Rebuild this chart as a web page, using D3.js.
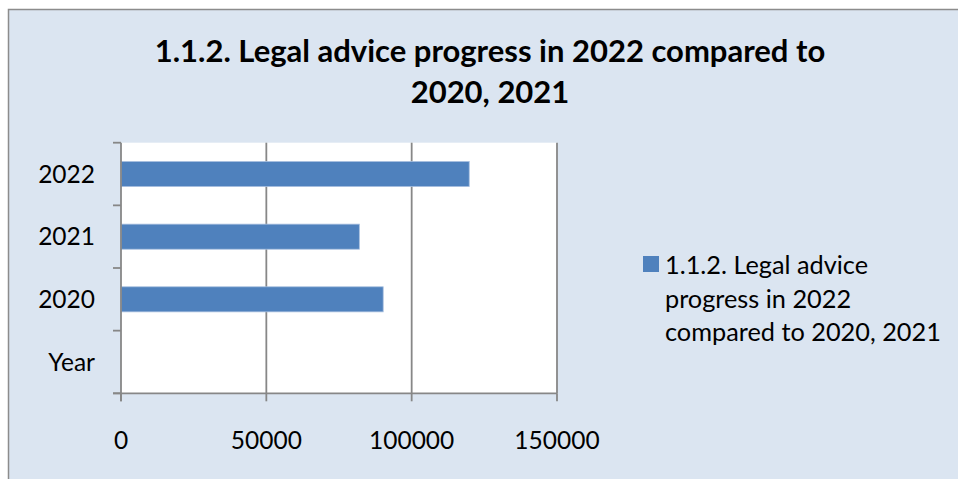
<!DOCTYPE html>
<html>
<head>
<meta charset="utf-8">
<script src="https://cdn.jsdelivr.net/npm/d3@7"></script>
<style>
  html, body { margin: 0; padding: 0; background: #fff; }
  svg { display: block; font-family: Lato, "Open Sans", sans-serif; }
</style>
</head>
<body>
<svg id="chart" width="958" height="479"></svg>
<script>
// data
const categories = ["Year", "2020", "2021", "2022"];
const values = [null, 90200, 82000, 119800];
const xTicks = [0, 50000, 100000, 150000];
const titleLines = ["1.1.2. Legal advice progress in 2022 compared to", "2020, 2021"];
const legendLines = ["1.1.2. Legal advice", "progress in 2022", "compared to 2020, 2021"];

const rows = categories.map((c, i) => ({ cat: c, value: values[i] }));

const svg = d3.select("#chart");
const W = 958, H = 479;
const plot = { left: 121, right: 557, top: 142.7, bottom: 393.3 };
const gridColor = "#878787";
const barColor = "#4f81bd";

// chart area background + frame
svg.append("rect")
  .attr("x", 8.5).attr("y", 9.5)
  .attr("width", W).attr("height", H)
  .attr("fill", "#dbe5f1")
  .attr("stroke", "#8c8c8c")
  .attr("stroke-width", 1.5);

// title
svg.append("g").selectAll("text")
  .data(titleLines)
  .enter()
  .append("text")
  .attr("x", 490)
  .attr("y", (d, i) => 62 + i * 41)
  .attr("text-anchor", "middle")
  .attr("font-weight", "bold")
  .attr("font-size", 31)
  .attr("fill", "#000")
  .text(d => d);

// scales
const x = d3.scaleLinear()
  .domain([0, 150000])
  .range([plot.left, plot.right]);

const y = d3.scaleBand()
  .domain(categories.slice().reverse())
  .range([plot.top, plot.bottom])
  .paddingInner(0.6)
  .paddingOuter(0.3);

// plot area
svg.append("rect")
  .attr("x", plot.left).attr("y", plot.top)
  .attr("width", plot.right - plot.left)
  .attr("height", plot.bottom - plot.top)
  .attr("fill", "#fff");

// vertical gridlines
svg.append("g").selectAll("line")
  .data(xTicks.slice(1))
  .enter()
  .append("line")
  .attr("x1", d => x(d)).attr("x2", d => x(d))
  .attr("y1", plot.top).attr("y2", plot.bottom)
  .attr("stroke", gridColor)
  .attr("stroke-width", 1.8);

// bars
svg.append("g").selectAll("rect")
  .data(rows.filter(d => d.value != null))
  .enter()
  .append("rect")
  .attr("x", x(0))
  .attr("y", d => y(d.cat))
  .attr("width", d => x(d.value) - x(0))
  .attr("height", y.bandwidth())
  .attr("fill", barColor)
  .attr("stroke", "#a7bfdf")
  .attr("stroke-width", 0.8);

// y axis: line + ticks at category boundaries
const yAxis = svg.append("g");
const step = y.step();
const bounds = d3.range(categories.length + 1).map(i => plot.top + i * step);
yAxis.append("line")
  .attr("x1", plot.left).attr("x2", plot.left)
  .attr("y1", plot.top).attr("y2", plot.bottom + 8)
  .attr("stroke", gridColor).attr("stroke-width", 1.8);
yAxis.selectAll("line.tick")
  .data(bounds)
  .enter()
  .append("line")
  .attr("class", "tick")
  .attr("x1", plot.left - 8).attr("x2", plot.left)
  .attr("y1", d => d).attr("y2", d => d)
  .attr("stroke", gridColor).attr("stroke-width", 1.8);
yAxis.selectAll("text")
  .data(categories)
  .enter()
  .append("text")
  .attr("x", 95)
  .attr("y", d => y(d) + y.bandwidth() / 2)
  .attr("dy", "0.35em")
  .attr("text-anchor", "end")
  .attr("font-size", 24.5)
  .attr("fill", "#000")
  .text(d => d);

// x axis
const xAxis = svg.append("g");
xAxis.append("line")
  .attr("x1", plot.left - 8).attr("x2", plot.right)
  .attr("y1", plot.bottom).attr("y2", plot.bottom)
  .attr("stroke", gridColor).attr("stroke-width", 1.8);
xAxis.selectAll("line.tick")
  .data(xTicks)
  .enter()
  .append("line")
  .attr("class", "tick")
  .attr("x1", d => x(d)).attr("x2", d => x(d))
  .attr("y1", plot.bottom).attr("y2", plot.bottom + 8)
  .attr("stroke", gridColor).attr("stroke-width", 1.8);
xAxis.selectAll("text")
  .data(xTicks)
  .enter()
  .append("text")
  .attr("x", d => x(d))
  .attr("y", 449)
  .attr("text-anchor", "middle")
  .attr("font-size", 24.5)
  .attr("fill", "#000")
  .text(d => d);

// legend
const legend = svg.append("g");
legend.append("rect")
  .attr("x", 643).attr("y", 256)
  .attr("width", 16).attr("height", 16)
  .attr("fill", barColor);
legend.selectAll("text")
  .data(legendLines)
  .enter()
  .append("text")
  .attr("x", 665)
  .attr("y", (d, i) => 274 + i * 33.5)
  .attr("font-size", 25.3)
  .attr("fill", "#000")
  .text(d => d);
</script>
</body>
</html>
